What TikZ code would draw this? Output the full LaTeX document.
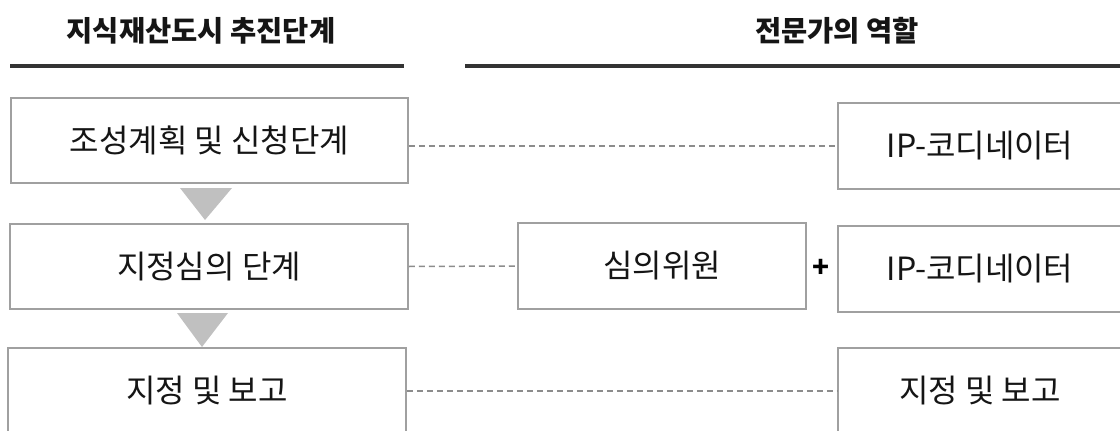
\documentclass[tikz,border=0pt]{standalone}
\usepackage{fontspec}
\setmainfont{Noto Sans CJK KR}
\usetikzlibrary{calc}
\definecolor{boxline}{HTML}{A0A0A0}
\definecolor{dashline}{HTML}{8C8C8C}
\definecolor{tri}{HTML}{C0C0C0}
\definecolor{ink}{HTML}{151515}
\tikzset{
  head/.style={font=\fontsize{28.5}{31}\selectfont\bfseries, text=ink, inner sep=0pt},
  rulebar/.style={line width=4pt, draw=black!80},
  stagebox/.style={draw=boxline, line width=1.5pt, fill=white, rectangle, inner sep=0pt,
     font=\fontsize{32}{35}\selectfont, text=ink},
  link/.style={draw=dashline, line width=1.5pt, dash pattern=on 6pt off 4pt},
  arrowtri/.style={fill=tri, draw=none},
}
\begin{document}
\begin{tikzpicture}[x=1pt,y=-1pt]
\useasboundingbox (0,0) rectangle (1120,431);
\clip (0,0) rectangle (1120,431);
% headers
\node[head] (h1) at (201,31) {지식재산도시 추진단계};
\node[head] (h2) at (837,31) {전문가의 역할};
\draw[rulebar] (10,65.5) -- (404,65.5);
\draw[rulebar] (465,65.5) -- (1125,65.5);
% left stages
\node[stagebox, minimum width=397pt, minimum height=85pt] (b1) at (209.5,140.5) {조성계획 및 신청단계};
\node[stagebox, minimum width=398pt, minimum height=85pt] (b2) at (209,266.5) {지정심의 단계};
\node[stagebox, minimum width=398pt, minimum height=86pt] (b3) at (207,391) {지정 및 보고};
% right roles
\node[stagebox, minimum width=284pt, minimum height=86pt] (r1) at (980,146) {IP-코디네이터};
\node[stagebox, minimum width=288pt, minimum height=86pt] (m2) at (662,266) {심의위원};
\node[stagebox, minimum width=284pt, minimum height=86pt] (r2) at (980,269) {IP-코디네이터};
\node[stagebox, minimum width=284pt, minimum height=86pt] (r3) at (980,391) {지정 및 보고};
\node[font=\fontsize{28}{30}\selectfont\bfseries, text=black, inner sep=0pt] (plus) at (821,268) {+};
% triangles
\fill[arrowtri] (180,188) -- (232,188) -- (205,220) -- cycle;
\fill[arrowtri] (177,313) -- (228,313) -- (202,347) -- cycle;
% dashed links
\draw[link] (b1.east |- r1.west) -- (r1.west);
\draw[link] (b2.east) -- (m2.west);
\draw[link] (b3.east) -- (r3.west);
\end{tikzpicture}
\end{document}
